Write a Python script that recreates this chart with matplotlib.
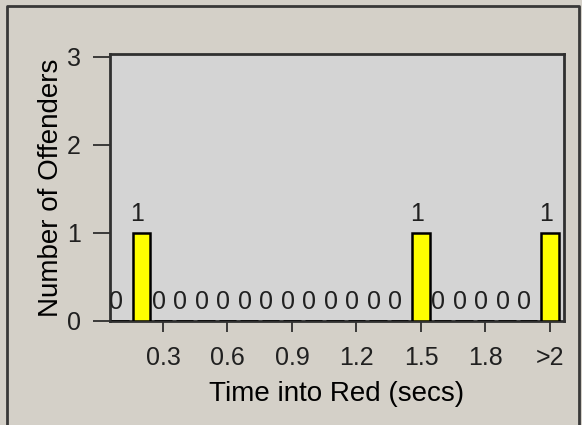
import matplotlib
matplotlib.use('Agg')
import matplotlib.pyplot as plt
from matplotlib.lines import Line2D

# bins of 0.1 s, last bin is everything above 2 s
bins = ['0.1', '0.2', '0.3', '0.4', '0.5', '0.6', '0.7', '0.8', '0.9', '1.0',
        '1.1', '1.2', '1.3', '1.4', '1.5', '1.6', '1.7', '1.8', '1.9', '2.0', '>2']
offenders = [0, 1, 0, 0, 0, 0, 0, 0, 0, 0,
             0, 0, 0, 0, 1, 0, 0, 0, 0, 0, 1]
shown_ticks = ['0.3', '0.6', '0.9', '1.2', '1.5', '1.8', '>2']
y_ticks = [0, 1, 2, 3]

outer_bg = '#d4d0c8'
plot_bg = '#d4d4d4'
narrow = ['Liberation Sans Narrow', 'Liberation Sans', 'DejaVu Sans']
font = ['Liberation Sans', 'DejaVu Sans']

fig = plt.figure(figsize=(5.82, 4.25), dpi=100, facecolor=outer_bg)
ax = fig.add_axes([0.189, 0.245, 0.780, 0.628], facecolor=plot_bg)

# dark frame on left, top and right of the window (no bottom edge)
fig.add_artist(Line2D([0.012, 0.012, 0.994, 0.994], [0.0, 0.986, 0.986, 0.0],
                      transform=fig.transFigure, color='#383838', linewidth=2))

x = list(range(1, len(bins) + 1))
ax.bar(x, offenders, width=0.8, color='#ffff00', edgecolor='black', linewidth=1.8, zorder=3)

for xi, v in zip(x, offenders):
    ax.annotate(str(v), (xi, v), xytext=(-3, 5), textcoords='offset points',
                ha='center', va='bottom', fontsize=18, family=narrow, color='#202020')

ax.set_xlim(0.535, 21.65)
ax.set_ylim(0, 3.03)

tick_pos = [x[bins.index(t)] for t in shown_ticks]
ax.set_xticks(tick_pos)
ax.set_xticklabels(shown_ticks, fontsize=18, family=narrow, color='#202020')
ax.set_yticks(y_ticks)
ax.set_yticklabels([str(t) for t in y_ticks], fontsize=18, family=narrow, color='#202020')

ax.tick_params(axis='x', length=8, width=1.2, pad=10, color='#202020')
ax.tick_params(axis='y', length=12, width=1.2, pad=9, color='#202020')

for side in ['left', 'bottom', 'top', 'right']:
    ax.spines[side].set_color('#303030')
    ax.spines[side].set_linewidth(2)

ax.set_xlabel('Time into Red (secs)', fontsize=20, family=font, color='black', labelpad=8)
ax.set_ylabel('Number of Offenders', fontsize=20, family=font, color='black', labelpad=2)

fig.savefig('out.png', dpi=100, facecolor=outer_bg)
